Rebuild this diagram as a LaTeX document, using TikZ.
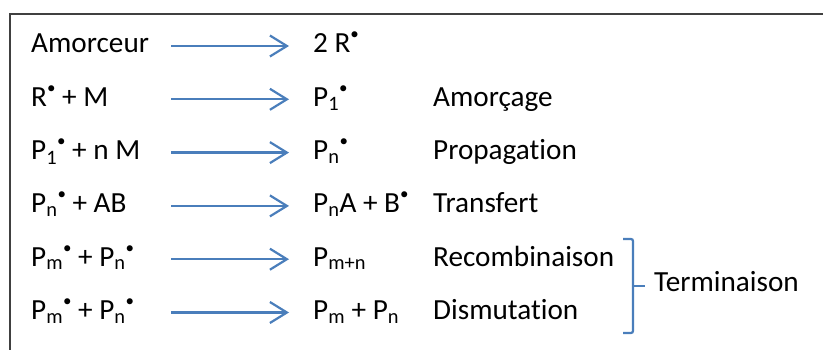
\documentclass[tikz,border=0pt]{standalone}
\usepackage{fontspec}
\setmainfont[Ligatures={NoCommon,NoContextual}]{Carlito}
\usetikzlibrary{arrows.meta}
\definecolor{arrblue}{HTML}{4A7EBB}
\definecolor{framegray}{HTML}{404040}
\newcommand{\rad}{\raisebox{0.45em}{\fontsize{17}{17}\selectfont\textbullet}}
\newcommand{\sub}[1]{\textsubscript{#1}}
\begin{document}
\begin{tikzpicture}[x=1pt,y=-1pt,
  txt/.style={anchor=base west,inner sep=0pt,font=\fontsize{29.2}{34}\selectfont},
  arr/.style={draw=arrblue,line width=2.2pt,-{Straight Barb[length=17pt,width=21pt]}},
  brace/.style={draw=arrblue,line width=2.2pt,rounded corners=2pt},
  frame/.style={draw=framegray,line width=2pt}]
\useasboundingbox (0,0) rectangle (823,350);
\draw[frame] (10,352) -- (10,14) -- (825,14);
% left column
\node[txt] (l1) at (31,53) {Amorceur};
\node[txt] (l2) at (31,106.3) {R\rad{} + M};
\node[txt] (l3) at (31,159.6) {P\sub{1}\rad{} + n M};
\node[txt] (l4) at (31,212.9) {P\sub{n}\rad{} + AB};
\node[txt] (l5) at (31,266.2) {P\sub{m}\rad{} + P\sub{n}\rad};
\node[txt] (l6) at (31,319.5) {P\sub{m}\rad{} + P\sub{n}\rad};
% products
\node[txt] (r1) at (313,53) {2 R\rad};
\node[txt] (r2) at (313,106.3) {P\sub{1}\rad};
\node[txt] (r3) at (313,159.6) {P\sub{n}\rad};
\node[txt] (r4) at (313,212.9) {P\sub{n}A + B\rad};
\node[txt] (r5) at (313,266.2) {P\sub{m+n}};
\node[txt] (r6) at (313,319.5) {P\sub{m} + P\sub{n}};
% names
\node[txt] (n2) at (433,106.3) {Amorçage};
\node[txt] (n3) at (433,159.6) {Propagation};
\node[txt] (n4) at (433,212.9) {Transfert};
\node[txt] (n5) at (433,266.2) {Recombinaison};
\node[txt] (n6) at (433,319.5) {Dismutation};
\node[txt] (term) at (654,291.5) {Terminaison};
% arrows
\foreach \i/\y in {1/46,2/99.3,3/152.6,4/205.9,5/259.2,6/312.5}{
  \coordinate (s\i) at (171,\y);
  \coordinate (e\i) at (289,\y);
  \draw[arr] (s\i) -- (e\i);
}
% brace
\coordinate (bt) at (623,239);
\coordinate (bb) at (623,333);
\coordinate (bm) at (633,286);
\coordinate (bp) at (645,286);
\draw[brace] (bt) -- (633,239) -- (633,333) -- (bb);
\draw[brace] (bm) -- (bp);
\end{tikzpicture}
\end{document}
